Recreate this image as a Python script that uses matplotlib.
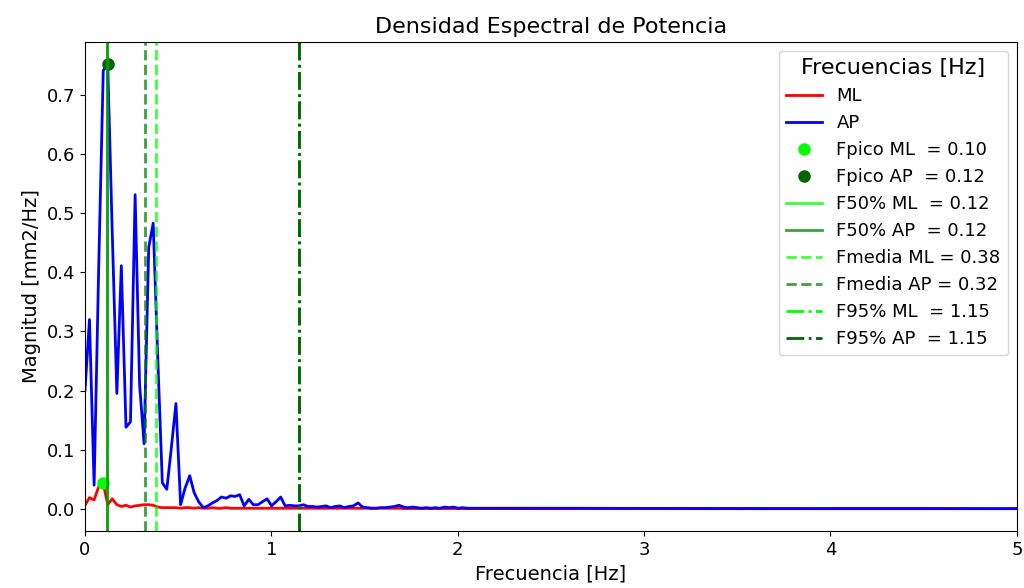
import numpy as np
from matplotlib import pyplot as plt

# frecuencias (Hz), bins de ~0.0244 Hz hasta 2.05 y luego cola dispersa
freq = [0.000, 0.024, 0.049, 0.073, 0.098, 0.122, 0.146, 0.171, 0.195, 0.220,
        0.244, 0.269, 0.293, 0.317, 0.342, 0.366, 0.391, 0.415, 0.439, 0.464,
        0.488, 0.513, 0.537, 0.562, 0.586, 0.610, 0.635, 0.659, 0.684, 0.708,
        0.732, 0.757, 0.781, 0.806, 0.830, 0.854, 0.879, 0.903, 0.928, 0.952,
        0.977, 1.001, 1.025, 1.050, 1.074, 1.099, 1.123, 1.147, 1.172, 1.196,
        1.221, 1.245, 1.270, 1.294, 1.318, 1.343, 1.367, 1.392, 1.416, 1.440,
        1.465, 1.489, 1.514, 1.538, 1.563, 1.587, 1.611, 1.636, 1.660, 1.685,
        1.709, 1.733, 1.758, 1.782, 1.807, 1.831, 1.855, 1.880, 1.904, 1.929,
        1.953, 1.978, 2.002, 2.026, 2.051,
        2.2, 2.5, 3.0, 3.5, 4.0, 4.5, 5.0, 5.2]

psd_ap = [0.200, 0.320, 0.040, 0.400, 0.741, 0.752, 0.470, 0.195, 0.411, 0.138,
          0.147, 0.531, 0.210, 0.110, 0.442, 0.483, 0.250, 0.044, 0.033, 0.105,
          0.178, 0.007, 0.035, 0.056, 0.027, 0.012, 0.002, 0.005, 0.010, 0.014,
          0.020, 0.018, 0.022, 0.021, 0.024, 0.005, 0.016, 0.007, 0.007, 0.012,
          0.017, 0.005, 0.012, 0.020, 0.005, 0.006, 0.005, 0.005, 0.007, 0.004,
          0.004, 0.003, 0.004, 0.005, 0.002, 0.004, 0.005, 0.002, 0.004, 0.005,
          0.010, 0.003, 0.002, 0.001, 0.001, 0.002, 0.002, 0.003, 0.004, 0.006,
          0.003, 0.002, 0.003, 0.002, 0.001, 0.002, 0.001, 0.002, 0.001, 0.003,
          0.002, 0.003, 0.001, 0.002, 0.001,
          0.001, 0.001, 0.0008, 0.0006, 0.0005, 0.0005, 0.0004, 0.0004]

psd_ml = [0.006, 0.019, 0.015, 0.037, 0.043, 0.007, 0.017, 0.007, 0.004, 0.006,
          0.003, 0.005, 0.006, 0.007, 0.007, 0.006, 0.003, 0.002, 0.002, 0.002,
          0.002, 0.001, 0.002, 0.002, 0.001, 0.002, 0.001, 0.001, 0.002, 0.001,
          0.001, 0.002, 0.001, 0.001, 0.001, 0.001, 0.001, 0.001, 0.001, 0.001,
          0.001, 0.001, 0.001, 0.001, 0.001, 0.001, 0.001, 0.001, 0.001, 0.001,
          0.001, 0.001, 0.001, 0.001, 0.001, 0.001, 0.001, 0.001, 0.001, 0.001,
          0.001, 0.001, 0.001, 0.001, 0.001, 0.001, 0.001, 0.001, 0.001, 0.001,
          0.0005, 0.0005, 0.0005, 0.0005, 0.0005, 0.0005, 0.0005, 0.0005, 0.0005, 0.0005,
          0.0005, 0.0005, 0.0005, 0.0005, 0.0005,
          0.0004, 0.0003, 0.0003, 0.0002, 0.0002, 0.0002, 0.0002, 0.0002]

f50_ml, f50_ap = 0.12, 0.12
fmedia_ml, fmedia_ap = 0.38, 0.32
f95_ml, f95_ap = 1.15, 1.15

freq = np.array(freq)
psd_ap = np.array(psd_ap)
psd_ml = np.array(psd_ml)

i_ml = np.argmax(psd_ml)
i_ap = np.argmax(psd_ap)

fig = plt.figure(figsize=(10.24, 5.88), dpi=100)
ax = fig.add_axes([0.083, 0.097, 0.910, 0.832])

ax.plot(freq, psd_ml, color='red', lw=2, label='ML')
ax.plot(freq, psd_ap, color='blue', lw=2, label='AP')
ax.plot(freq[i_ml], psd_ml[i_ml], 'o', color='lime', ms=8, label='Fpico ML  = 0.10')
ax.plot(freq[i_ap], psd_ap[i_ap], 'o', color='darkgreen', ms=8, label='Fpico AP  = 0.12')
ax.axvline(f50_ml, color='lime', lw=2, alpha=0.75, label='F50% ML  = 0.12')
ax.axvline(f50_ap, color='green', lw=2, alpha=0.75, label='F50% AP  = 0.12')
ax.axvline(fmedia_ml, color='lime', lw=2, ls='--', alpha=0.75, label='Fmedia ML = 0.38')
ax.axvline(fmedia_ap, color='green', lw=2, ls='--', alpha=0.75, label='Fmedia AP = 0.32')
ax.axvline(f95_ml, color='lime', lw=2, ls='-.', label='F95% ML  = 1.15')
ax.axvline(f95_ap, color='darkgreen', lw=2, ls='-.', label='F95% AP  = 1.15')

ax.set_xlim(0, 5)
ax.set_title('Densidad Espectral de Potencia', fontsize=16)
ax.set_xlabel('Frecuencia [Hz]', fontsize=14)
ax.set_ylabel('Magnitud [mm2/Hz]', fontsize=14)
ax.tick_params(labelsize=13)
leg = ax.legend(title='Frecuencias [Hz]', loc='upper right', fontsize=13,
                title_fontsize=16, numpoints=1)

plt.savefig('out.png')
